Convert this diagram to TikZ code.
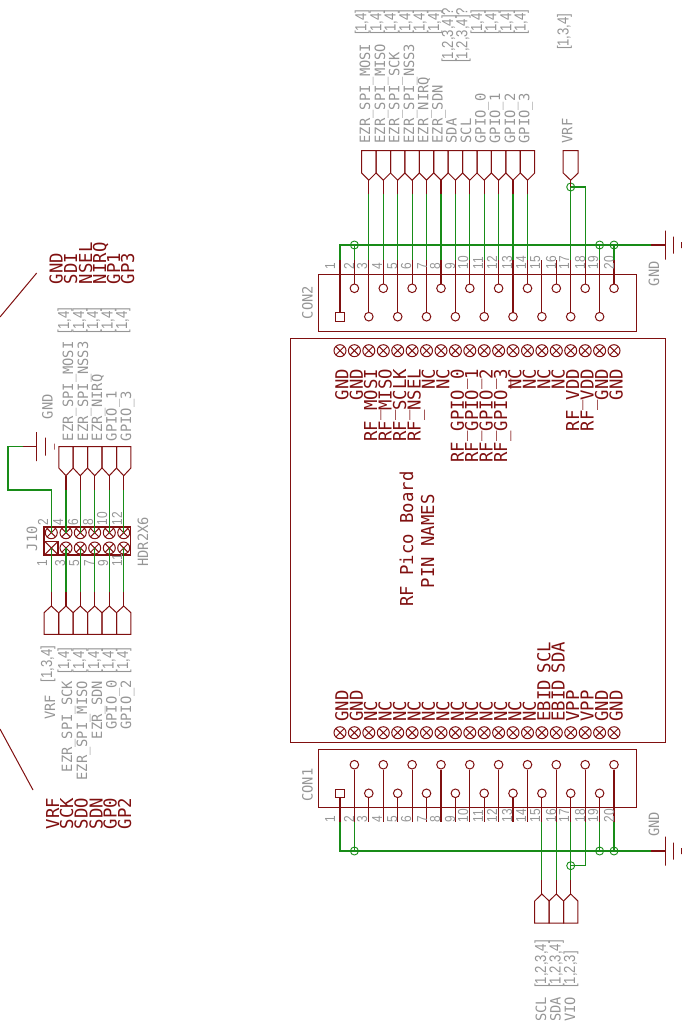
\documentclass[tikz,border=0pt]{standalone}
\usepackage{fontspec}
\usepackage{xcolor}
\usetikzlibrary{positioning}
\newfontfamily\eaglefont[FakeStretch=0.97]{DejaVu Sans Mono}
\newfontfamily\xreffont[FakeStretch=0.82]{Liberation Sans}
\definecolor{partred}{RGB}{128,16,16}
\definecolor{netgreen}{RGB}{24,140,24}
\definecolor{notegray}{RGB}{150,150,150}

\begin{document}
\begin{tikzpicture}
    \tikzstyle{part} = [draw=partred,line width=1pt]
    \tikzstyle{net} = [draw=netgreen,line width=1.1pt]
    \tikzstyle{stub} = [draw=partred,line width=1.1pt]
    \tikzstyle{padhole} = [circle,part,inner sep=0pt,minimum size=8.6pt]
    \tikzstyle{padsquare} = [rectangle,part,inner sep=0pt,minimum size=8.6pt]
    \tikzstyle{padcross} = [circle,part,inner sep=0pt,minimum size=12pt,path picture={\draw [partred,line width=1pt] (path picture bounding box.north west) -- (path picture bounding box.south east) (path picture bounding box.north east) -- (path picture bounding box.south west);}]
    \tikzstyle{junc} = [circle,draw=netgreen,line width=0.9pt,inner sep=0pt,minimum size=8pt]
    \tikzstyle{bar} = [rectangle,part,inner sep=0pt,minimum width=0pt]
    \tikzstyle{txt} = [rotate=90,inner sep=0pt,outer sep=0pt,anchor=base west]
    \tikzstyle{pinname} = [txt,text=partred,font=\eaglefont\fontsize{17.8}{19}\selectfont]
    \tikzstyle{netname} = [txt,text=notegray,font=\eaglefont\fontsize{14.2}{15}\selectfont]
    \tikzstyle{xref} = [txt,text=notegray,font=\xreffont\fontsize{16}{17}\selectfont]
    \tikzstyle{pinno} = [txt,text=notegray,font=\xreffont\fontsize{14.5}{15}\selectfont]
    \useasboundingbox (0,0) rectangle (687pt,-1035pt);

    % RF board
    \node [part,rectangle,minimum width=375pt,minimum height=404.4pt,inner sep=0pt,xshift=477.5pt,yshift=-540.5pt] (board) {};
    \foreach \i/\x in {1/340,2/354.4,3/368.8,4/383.3,5/397.7,6/412.1,7/426.5,8/441,9/455.4,10/469.8,11/484.2,12/498.6,13/513,14/527.5,15/541.9,16/556.3,17/570.7,18/585.2,19/599.6,20/614} {
      \node [padcross,xshift=\x pt,yshift=-350.7pt] (boardt\i) {};
      \node [padcross,xshift=\x pt,yshift=-732.7pt] (boardb\i) {};
    }
    \foreach \i/\x/\t in {1/348.4/GND,2/362.8/GND,3/377.2/RF\_MOSI,4/391.7/RF\_MISO,5/406.1/RF\_SCLK,6/420.5/RF\_NSEL,7/434.9/NC,8/449.4/NC,9/463.8/RF\_GPIO\_0,10/478.2/RF\_GPIO\_1,11/492.6/RF\_GPIO\_2,12/507/RF\_GPIO\_3,13/521.4/NC,14/535.9/NC,15/550.3/NC,16/564.7/NC,17/579.1/RF\_VDD,18/593.6/RF\_VDD,19/608/GND,20/622.7/GND} {
      \node [xshift=\x pt,yshift=-369pt,pinname,anchor=base east] (namet\i) {\t};
    }
    \foreach \i/\x/\t in {1/348.4/GND,2/362.8/GND,3/377.2/NC,4/391.7/NC,5/406.1/NC,6/420.5/NC,7/434.9/NC,8/449.4/NC,9/463.8/NC,10/478.2/NC,11/492.6/NC,12/507/NC,13/521.4/NC,14/535.9/NC,15/550.3/EBID,16/564.7/EBID,17/579.1/VPP,18/593.6/VPP,19/608/GND,20/622.7/GND} {
      \node [xshift=\x pt,yshift=-721.7pt,pinname] (nameb\i) {\t};
    }
    \node [xshift=550.3pt,yshift=-673pt,pinname] (namescl) {SCL};
    \node [xshift=564.7pt,yshift=-673pt,pinname] (namesda) {SDA};
    \node [xshift=413pt,yshift=-606.7pt,pinname] (boardtitle) {RF Pico Board};
    \node [xshift=434pt,yshift=-588pt,pinname] (boardsub) {PIN NAMES};

    % CON2
    \node [part,rectangle,minimum width=317.7pt,minimum height=57.3pt,inner sep=0pt,xshift=477.2pt,yshift=-302.7pt] (con2) {};
    \node [xshift=312.7pt,yshift=-319pt,netname] (con2name) {CON2};
    \node [padsquare,xshift=340pt,yshift=-316.7pt] (c2pad1) {};
    \foreach \i/\x in {3/368.8,5/397.7,7/426.5,9/455.4,11/484.2,13/513,15/541.9,17/570.7,19/599.6} {
      \node [padhole,xshift=\x pt,yshift=-316.7pt] (c2pad\i) {};
    }
    \foreach \i/\x in {2/354.4,4/383.3,6/412.1,8/441,10/469.8,12/498.6,14/527.5,16/556.3,18/585.2,20/614} {
      \node [padhole,xshift=\x pt,yshift=-288.3pt] (c2pad\i) {};
    }
    \foreach \i/\x in {1/340,2/354.4,3/368.8,4/383.3,5/397.7,6/412.1,7/426.5,8/441,9/455.4,10/469.8,11/484.2,12/498.6,13/513,14/527.5,15/541.9,16/556.3,17/570.7,18/585.2,19/599.6,20/614} {
      \coordinate [xshift=\x pt,yshift=-260pt] (c2net\i);
      \draw [stub] (c2pad\i) -- (c2net\i);
    }
    \foreach \i/\x in {1/335,2/354,3/367,4/382,5/397,6/411,7/427,8/440,9/455,10/468,11/483,12/497,13/512,14/526,15/540,16/556,17/569,18/585,19/598,20/614} {
      \node [xshift=\x pt,yshift=-269pt,pinno] (c2no\i) {\i};
    }

    % CON2 flags
    \foreach \i/\x/\b/\t/\r/\s in {3/368.8/370/EZR\_SPI\_MOSI/{[1,4]}/35,4/383.3/385/EZR\_SPI\_MISO/{[1,4]}/35,5/397.7/399.3/EZR\_SPI\_SCK/{[1,4]}/35,6/412.1/414/EZR\_SPI\_NSS3/{[1,4]}/35,7/426.5/428.3/EZR\_NIRQ/{[1,4]}/35,8/441/442.7/EZR\_SDN/{[1,4]}/35,9/455.4/456.7/SDA/{[1,2,3,4]?}/62.7,10/469.8/471/SCL/{[1,2,3,4]?}/62.7,11/484.2/485.7/GPIO\_0/{[1,4]}/35,12/498.6/500/GPIO\_1/{[1,4]}/35,13/513/515/GPIO\_2/{[1,4]}/35,14/527.5/529.3/GPIO\_3/{[1,4]}/35} {
      \draw [part,xshift=\x pt,yshift=-150.7pt] (-7.2pt,0pt) -- (7.2pt,0pt) -- (7.2pt,-22.3pt) -- (0pt,-29.5pt) -- (-7.2pt,-22.3pt) -- cycle;
      \coordinate [xshift=\x pt,yshift=-180.2pt] (c2tip\i);
      \coordinate [xshift=\x pt,yshift=-194pt] (c2end\i);
      \draw [stub] (c2tip\i) -- (c2end\i);
      \draw [net] (c2end\i) -- (c2net\i);
      \node [xshift=\b pt,yshift=-143.3pt,netname] (c2label\i) {\t};
      \node [xshift=\b pt-3.7pt,yshift=-\s pt,xref] (c2ref\i) {\r};
    }
    \draw [part,xshift=570.7pt,yshift=-150.7pt] (-7.5pt,0pt) -- (7.5pt,0pt) -- (7.5pt,-22.3pt) -- (0pt,-29.5pt) -- (-7.5pt,-22.3pt) -- cycle;
    \coordinate [xshift=570.7pt,yshift=-180.2pt] (c2tip17);
    \node [junc,xshift=570.7pt,yshift=-187pt] (c2j17) {};
    \draw [stub] (c2tip17) -- (c2j17.center);
    \draw [net] (c2j17.center) -- (c2net17);
    \draw [net] (c2j17.center) -| (c2net18);
    \node [xshift=572.3pt,yshift=-143.3pt,netname] (c2label17) {VRF};
    \node [xshift=568.6pt,yshift=-50pt,xref] (c2ref17) {[1,3,4]};

    % CON2 ground
    \coordinate [xshift=340pt,yshift=-245pt] (c2rail);
    \coordinate [xshift=651pt,yshift=-245pt] (c2gnd);
    \node [bar,minimum height=29pt,xshift=665pt,yshift=-245pt] (c2bar1) {};
    \node [bar,minimum height=17pt,xshift=673pt,yshift=-245pt] (c2bar2) {};
    \node [bar,minimum height=6pt,xshift=681.7pt,yshift=-245pt] (c2bar3) {};
    \node [xshift=659pt,yshift=-286pt,netname] (c2gndname) {GND};
    \draw [net] (c2net1) -- (c2rail) -- (c2gnd);
    \draw [stub] (c2gnd) -- (c2bar1);
    \foreach \i/\x in {2/354.4,19/599.6,20/614} {
      \node [junc,xshift=\x pt,yshift=-245pt] (c2j\i) {};
      \draw [net] (c2j\i.center) -- (c2net\i);
    }

    % CON1
    \node [part,rectangle,minimum width=317.7pt,minimum height=57.7pt,inner sep=0pt,xshift=477.2pt,yshift=-778.8pt] (con1) {};
    \node [xshift=312.7pt,yshift=-801.7pt,netname] (con1name) {CON1};
    \node [padsquare,xshift=340pt,yshift=-793.3pt] (c1pad1) {};
    \foreach \i/\x in {3/368.8,5/397.7,7/426.5,9/455.4,11/484.2,13/513,15/541.9,17/570.7,19/599.6} {
      \node [padhole,xshift=\x pt,yshift=-793.3pt] (c1pad\i) {};
    }
    \foreach \i/\x in {2/354.4,4/383.3,6/412.1,8/441,10/469.8,12/498.6,14/527.5,16/556.3,18/585.2,20/614} {
      \node [padhole,xshift=\x pt,yshift=-764.7pt] (c1pad\i) {};
    }
    \foreach \i/\x in {1/340,2/354.4,3/368.8,4/383.3,5/397.7,6/412.1,7/426.5,8/441,9/455.4,10/469.8,11/484.2,12/498.6,13/513,14/527.5,15/541.9,16/556.3,17/570.7,18/585.2,19/599.6,20/614} {
      \coordinate [xshift=\x pt,yshift=-822.3pt] (c1net\i);
      \draw [stub] (c1pad\i) -- (c1net\i);
    }
    \foreach \i/\x in {1/335,2/354,3/367,4/382,5/397,6/411,7/427,8/440,9/455,10/468,11/483,12/497,13/512,14/526,15/540,16/556,17/569,18/585,19/598,20/614} {
      \node [xshift=\x pt,yshift=-822pt,pinno] (c1no\i) {\i};
    }

    % CON1 flags
    \foreach \i/\x/\b/\t/\r/\e in {15/541.9/546/SCL/{[1,2,3,4]}/987.7,16/556.3/560.5/SDA/{[1,2,3,4]}/987.7,17/570.7/575/VIO/{[1,2,3]}/987.7} {
      \draw [part,xshift=\x pt,yshift=-923pt] (-7.2pt,0pt) -- (7.2pt,0pt) -- (7.2pt,22pt) -- (0pt,29pt) -- (-7.2pt,22pt) -- cycle;
      \coordinate [xshift=\x pt,yshift=-894pt] (c1tip\i);
      \coordinate [xshift=\x pt,yshift=-880pt] (c1end\i);
      \draw [stub] (c1tip\i) -- (c1end\i);
      \draw [net] (c1end\i) -- (c1net\i);
      \node [xshift=\b pt,yshift=-1021.7pt,netname] (c1label\i) {\t};
      \node [xshift=\b pt,yshift=-\e pt,xref] (c1ref\i) {\r};
    }
    \node [junc,xshift=570.7pt,yshift=-865.7pt] (c1j17) {};
    \draw [net] (c1net18) |- (c1j17.center);

    % CON1 ground
    \coordinate [xshift=340pt,yshift=-851pt] (c1rail);
    \coordinate [xshift=651pt,yshift=-851pt] (c1gnd);
    \node [bar,minimum height=29pt,xshift=665pt,yshift=-851pt] (c1bar1) {};
    \node [bar,minimum height=17pt,xshift=673pt,yshift=-851pt] (c1bar2) {};
    \node [bar,minimum height=6pt,xshift=681.7pt,yshift=-851pt] (c1bar3) {};
    \node [xshift=659pt,yshift=-836.7pt,netname] (c1gndname) {GND};
    \draw [net] (c1net1) -- (c1rail) -- (c1gnd);
    \draw [stub] (c1gnd) -- (c1bar1);
    \foreach \i/\x in {2/354.4,19/599.6,20/614} {
      \node [junc,xshift=\x pt,yshift=-851pt] (c1j\i) {};
      \draw [net] (c1j\i.center) -- (c1net\i);
    }

    % J10 header
    \node [rectangle,draw=partred,line width=1.6pt,minimum width=86.7pt,minimum height=28.3pt,inner sep=0pt,xshift=87.3pt,yshift=-541pt] (j10) {};
    \node [xshift=37pt,yshift=-551pt,netname] (j10name) {J10};
    \node [xshift=148pt,yshift=-566.7pt,netname] (j10type) {HDR2X6};
    \foreach \i/\x in {2/51.3,4/66,6/80.3,8/94.7,10/109.3,12/123.7} {
      \node [padcross,xshift=\x pt,yshift=-532.7pt] (jpad\i) {};
    }
    \node [rectangle,part,line width=1.4pt,inner sep=0pt,minimum size=13.5pt,xshift=51.3pt,yshift=-548pt,path picture={\draw [partred,line width=1pt] (path picture bounding box.north west) -- (path picture bounding box.south east) (path picture bounding box.north east) -- (path picture bounding box.south west);}] (jpad1) {};
    \foreach \i/\x in {3/66,5/80.3,7/94.7,9/109.3,11/123.7} {
      \node [padcross,xshift=\x pt,yshift=-548pt] (jpad\i) {};
    }
    \foreach \i/\x in {2/48,4/63,6/78,8/93,10/107,12/122} {
      \node [xshift=\x pt,yshift=-525pt,pinno] (jno\i) {\i};
    }
    \foreach \i/\x in {1/47,3/65,5/79,7/94,9/108,11/122} {
      \node [xshift=\x pt,yshift=-566pt,pinno] (jno\i) {\i};
    }

    % J10 upper flags
    \foreach \i/\x/\b/\t in {4/66/73/EZR\_SPI\_MOSI,6/80.3/88/EZR\_SPI\_NSS3,8/94.7/102/EZR\_NIRQ,10/109.3/116.5/GPIO\_1,12/123.7/131/GPIO\_3} {
      \draw [part,xshift=\x pt,yshift=-446.7pt] (-7.2pt,0pt) -- (7.2pt,0pt) -- (7.2pt,-21.3pt) -- (0pt,-29pt) -- (-7.2pt,-21.3pt) -- cycle;
      \coordinate [xshift=\x pt,yshift=-475.7pt] (jtip\i);
      \coordinate [xshift=\x pt,yshift=-490pt] (jend\i);
      \draw [stub] (jtip\i) -- (jend\i);
      \draw [net] (jend\i) -- (jpad\i.center);
      \node [xshift=\b pt,yshift=-441pt,netname] (jlabel\i) {\t};
      \node [xshift=\b pt-4pt,yshift=-333pt,xref] (jref\i) {[1,4]};
    }

    % J10 lower flags
    \foreach \i/\x/\b/\t/\r/\e/\s in {1/51.3/55/VRF/{[1,3,4]}/695/682,3/66/72/EZR\_SPI\_SCK/{[1,4]}/681/673,5/80.3/87/EZR\_SPI\_MISO/{[1,4]}/681/673,7/94.7/102/EZR\_SDN/{[1,4]}/681/673,9/109.3/116.5/GPIO\_0/{[1,4]}/680/673,11/123.7/131/GPIO\_2/{[1,4]}/680/673} {
      \draw [part,xshift=\x pt,yshift=-634.3pt] (-7.2pt,0pt) -- (7.2pt,0pt) -- (7.2pt,21.6pt) -- (0pt,28.3pt) -- (-7.2pt,21.6pt) -- cycle;
      \coordinate [xshift=\x pt,yshift=-606pt] (jtip\i);
      \coordinate [xshift=\x pt,yshift=-591.7pt] (jend\i);
      \draw [stub] (jtip\i) -- (jend\i);
      \draw [net] (jend\i) -- (jpad\i.center);
      \node [xshift=\b pt,yshift=-\e pt,netname,anchor=base east] (jlabel\i) {\t};
      \node [xshift=\b pt-3pt,yshift=-\s pt,xref] (jref\i) {\r};
    }

    % J10 ground
    \coordinate [xshift=8pt,yshift=-490pt] (jcorner1);
    \coordinate [xshift=8pt,yshift=-446.7pt] (jcorner2);
    \coordinate [xshift=22.7pt,yshift=-446.7pt] (jgnd);
    \coordinate [xshift=51.3pt,yshift=-490pt] (jend2);
    \node [bar,minimum height=29pt,xshift=36.7pt,yshift=-446.7pt] (jbar1) {};
    \node [bar,minimum height=18pt,xshift=45.7pt,yshift=-446.7pt] (jbar2) {};
    \node [bar,minimum height=6pt,xshift=54pt,yshift=-446.7pt] (jbar3) {};
    \node [xshift=52.7pt,yshift=-419pt,netname] (jgndname) {GND};
    \draw [net] (jpad2.center) -- (jend2) -- (jcorner1) -- (jcorner2) -- (jgnd);
    \draw [stub] (jgnd) -- (jbar1);

    % chip pin names
    \foreach \i/\x/\t in {1/62.5/GND,2/77/SDI,3/92/NSEL,4/106/NIRQ,5/120/GP1,6/134/GP3} {
      \node [xshift=\x pt,yshift=-284pt,pinname] (chipt\i) {\t};
    }
    \foreach \i/\x/\t in {1/59/VRF,2/73/SCK,3/87.7/SDO,4/102.7/SDN,5/116.7/GP0,6/131/GP2} {
      \node [xshift=\x pt,yshift=-829pt,pinname] (chipb\i) {\t};
    }
    \coordinate [xshift=0pt,yshift=-317pt] (chipa1);
    \coordinate [xshift=36.7pt,yshift=-273pt] (chipa2);
    \coordinate [xshift=0pt,yshift=-729pt] (chipb1);
    \coordinate [xshift=33pt,yshift=-790pt] (chipb2);
    \draw [part] (chipa1) -- (chipa2);
    \draw [part] (chipb1) -- (chipb2);
\end{tikzpicture}
\end{document}
